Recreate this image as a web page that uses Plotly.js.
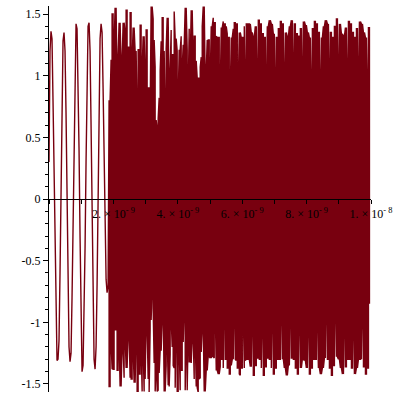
<!DOCTYPE html>
<html>
<head>
<meta charset="utf-8">
<script src="https://cdn.plot.ly/plotly-3.0.1.min.js"></script>
<style>html,body{margin:0;padding:0;background:#fff;}#chart{width:400px;height:400px;}</style>
</head>
<body>
<div id="chart"></div>
<script>
// time axis in nanoseconds; one sample per screen column of the reference
const sampleStepNs = 0.0311;

// early oscillation (single-valued samples)
const earlySignal = [0.3, 1.2, 1.36, 1.3, 0.8, 0.2, -0.5, -1.1, -1.31, -1.3,
  -1.15, -0.6, 0.1, 0.8, 1.28, 1.35, 1.2, 0.7, 0.05, -0.7,
  -1.2, -1.32, -1.25, -0.8, -0.2, 0.6, 1.25, 1.42, 1.38, 1.0,
  0.4, -0.3, -1.0, -1.4, -1.35, -1.0, -0.4, 0.3, 1.0, 1.4,
  1.43, 1.2, 0.6, -0.1, -0.8, -1.3, -1.38, -1.2, -0.7, -0.1,
  0.6, 1.3, 1.42, 1.35, 0.9, 0.3, -0.3, -0.65, -0.76, -0.7];

// dense (aliased) part: per-sample upper and lower excursions
const denseUpper = [
  0.80, 0.80, 1.13, 1.50, 1.50, 1.25, 1.55, 1.55, 0.92, 1.17,
  1.43, 1.43, 1.10, 1.10, 1.43, 1.43, 1.35, 1.53, 1.53, 1.23,
  1.23, 1.51, 1.51, 1.12, 1.39, 1.39, 1.20, 1.20, 0.70, 1.21,
  1.21, 1.41, 1.41, 1.04, 1.32, 1.32, 1.01, 1.37, 1.37, 0.90,
  0.90, 0.70, 1.56, 1.56, 1.46, 1.29, 1.07, 0.64, 0.57, 0.65,
  0.82, 1.04, 1.28, 1.47, 1.47, 1.20, 0.69, 1.22, 1.47, 1.47,
  0.77, 1.06, 1.37, 1.17, 1.17, 1.52, 1.30, 1.30, 1.20, 0.80,
  1.21, 1.21, 1.32, 1.06, 1.25, 1.25, 1.55, 1.55, 1.21, 0.88,
  1.38, 1.12, 1.53, 1.53, 1.12, 1.32, 1.32, 1.12, 0.98, 0.98,
  0.98, 1.07, 1.15, 1.40, 1.56, 1.56, 0.96, 1.04, 1.29, 1.29,
  1.29, 0.97, 1.40, 1.40, 1.47, 1.43, 1.43, 1.32, 1.31, 1.31,
  1.31, 0.88, 1.39, 1.39, 1.44, 1.42, 1.42, 1.40, 1.34, 1.31,
  1.31, 0.87, 1.31, 1.31, 1.38, 1.43, 1.43, 1.42, 1.42, 0.93,
  1.35, 1.35, 1.31, 1.31, 1.31, 1.40, 0.94, 1.42, 1.42, 1.42,
  1.42, 1.42, 1.35, 1.35, 1.31, 1.31, 1.40, 1.40, 0.96, 1.45,
  1.45, 1.42, 1.42, 1.34, 1.34, 1.31, 1.31, 0.88, 1.40, 1.40,
  1.45, 1.45, 1.42, 1.42, 1.34, 1.34, 0.87, 1.31, 1.31, 1.38,
  1.38, 1.44, 1.44, 1.42, 1.42, 0.94, 1.35, 1.35, 1.31, 1.31,
  1.40, 1.40, 1.45, 1.45, 1.00, 1.42, 1.42, 1.34, 1.34, 1.32,
  1.32, 1.38, 1.38, 0.95, 1.44, 1.44, 1.41, 1.41, 1.35, 1.35,
  1.31, 1.31, 0.87, 1.38, 1.38, 1.44, 1.44, 1.42, 1.42, 1.35,
  1.35, 0.87, 1.31, 1.31, 1.40, 1.40, 1.45, 1.45, 1.42, 1.42,
  0.94, 1.35, 1.35, 1.31, 1.31, 1.40, 1.40, 1.46, 1.46, 1.00,
  1.42, 1.42, 1.34, 1.34, 1.32, 1.32, 1.39, 1.39, 0.96, 1.44,
  1.44, 1.42, 1.42, 1.35, 1.35, 1.31, 1.31, 1.38, 1.38, 0.95,
  1.44, 1.44, 1.42, 1.42, 1.35, 1.35, 1.31, 1.31, 0.87, 1.39,
  1.39];

const denseLower = [
  -1.52, -1.52, -1.16, -1.38, -1.38, -1.38, -1.06, -1.06, -1.39, -1.39,
  -1.15, -1.52, -1.52, -1.20, -1.20, -1.45, -1.11, -1.37, -1.37, -1.08,
  -1.09, -1.45, -1.46, -1.46, -1.20, -1.49, -1.49, -1.10, -1.56, -1.56,
  -1.42, -1.42, -1.20, -1.56, -1.20, -1.56, -1.46, -1.00, -1.04, -1.46,
  -1.57, -1.06, -0.98, -0.70, -0.89, -1.33, -1.56, -1.41, -1.56, -1.55,
  -1.41, -1.23, -1.23, -1.00, -0.77, -1.56, -1.56, -1.35, -1.08, -1.51,
  -1.52, -1.26, -0.96, -1.20, -1.35, -1.37, -1.53, -1.04, -1.56, -1.56,
  -1.19, -1.55, -1.39, -1.39, -1.16, -0.89, -1.55, -1.20, -1.55, -1.07,
  -1.32, -1.32, -1.33, -1.11, -1.12, -1.46, -1.12, -1.52, -1.53, -1.57,
  -1.46, -1.45, -1.24, -1.03, -1.04, -1.56, -1.56, -1.39, -1.39, -1.27,
  -1.28, -1.29, -1.29, -1.27, -1.28, -1.29, -0.88, -1.39, -1.39, -1.42,
  -1.42, -1.36, -1.30, -1.30, -1.37, -0.83, -1.30, -1.30, -1.37, -1.37,
  -1.42, -1.42, -1.35, -1.30, -1.30, -0.87, -1.30, -1.31, -1.37, -1.37,
  -1.42, -1.43, -1.37, -1.37, -0.93, -1.37, -1.31, -1.30, -1.30, -1.30,
  -1.30, -1.36, -1.36, -0.95, -1.43, -1.43, -1.35, -1.35, -1.29, -1.29,
  -1.30, -1.30, -1.37, -0.96, -1.43, -1.43, -1.36, -1.36, -1.29, -1.29,
  -1.30, -1.30, -1.37, -0.89, -1.42, -1.42, -1.37, -1.37, -1.30, -1.30,
  -1.30, -1.30, -0.83, -1.30, -1.30, -1.37, -1.37, -1.43, -1.43, -1.35,
  -1.35, -0.84, -1.29, -1.29, -1.30, -1.30, -1.37, -1.37, -1.42, -1.42,
  -0.92, -1.37, -1.37, -1.30, -1.30, -1.31, -1.31, -1.37, -1.37, -0.95,
  -1.42, -1.42, -1.37, -1.37, -1.30, -1.30, -1.30, -1.30, -0.88, -1.37,
  -1.37, -1.42, -1.42, -1.37, -1.37, -1.29, -1.29, -0.82, -1.30, -1.30,
  -1.37, -1.37, -1.43, -1.43, -1.35, -1.35, -0.83, -1.28, -1.28, -1.30,
  -1.30, -1.37, -1.37, -1.42, -1.42, -0.92, -1.36, -1.36, -1.30, -1.30,
  -1.30, -1.30, -1.37, -1.37, -0.95, -1.42, -1.42, -1.37, -1.37, -1.30,
  -1.30, -1.30, -1.30, -0.88, -1.36, -1.36, -1.42, -1.42, -1.37, -1.37,
  -0.85];

const xTickVals = [2, 4, 6, 8, 10];
const xTickText = ['2. \u00d7 10<sup>- 9</sup>', '4. \u00d7 10<sup>- 9</sup>', '6. \u00d7 10<sup>- 9</sup>',
                   '8. \u00d7 10<sup>- 9</sup>', '1. \u00d7 10<sup>- 8</sup>'];
const yTickVals = [-1.5, -1, -0.5, 0, 0.5, 1, 1.5];
const yTickText = ['-1.5', '-1', '-0.5', '0', '0.5', '1', '1.5'];

const xs = [], ys = [];
earlySignal.forEach((v, i) => { xs.push(i * sampleStepNs); ys.push(v); });
const off = earlySignal.length;
for (let j = 0; j < denseUpper.length; j++) {
  const t = (off + j) * sampleStepNs;
  if (j % 2 === 0) { xs.push(t, t); ys.push(denseUpper[j], denseLower[j]); }
  else { xs.push(t, t); ys.push(denseLower[j], denseUpper[j]); }
}

const font = {family: 'Liberation Serif, Times New Roman, serif', size: 12, color: '#000'};
const data = [{
  x: xs, y: ys, type: 'scatter', mode: 'lines',
  line: {color: '#78000f', width: 1.4}, hoverinfo: 'skip'
}];
const layout = {
  width: 400, height: 400,
  margin: {l: 49, r: 29, t: 6, b: 8},
  paper_bgcolor: '#fff', plot_bgcolor: '#fff',
  showlegend: false,
  font: font,
  xaxis: {
    range: [0, 10], anchor: 'free', position: 0.5,
    showline: true, linecolor: '#000', linewidth: 1,
    showgrid: false, zeroline: false,
    tickmode: 'array', tickvals: xTickVals, ticktext: xTickText,
    ticks: 'outside', ticklen: 4, tickcolor: '#000',
    minor: {tickmode: 'linear', tick0: 0, dtick: 1, ticks: 'outside', ticklen: 4, tickcolor: '#000'},
    tickfont: font, layer: 'above traces'
  },
  yaxis: {
    range: [-1.565, 1.565],
    showline: true, linecolor: '#000', linewidth: 1,
    showgrid: false, zeroline: false,
    tickmode: 'array', tickvals: yTickVals, ticktext: yTickText,
    ticks: 'outside', ticklen: 5, tickcolor: '#000',
    minor: {tickmode: 'linear', tick0: 0, dtick: 0.1, ticks: 'outside', ticklen: 3, tickcolor: '#000'},
    tickfont: font, layer: 'above traces'
  }
};
Plotly.newPlot('chart', data, layout, {staticPlot: true, displayModeBar: false});
</script>
</body>
</html>
